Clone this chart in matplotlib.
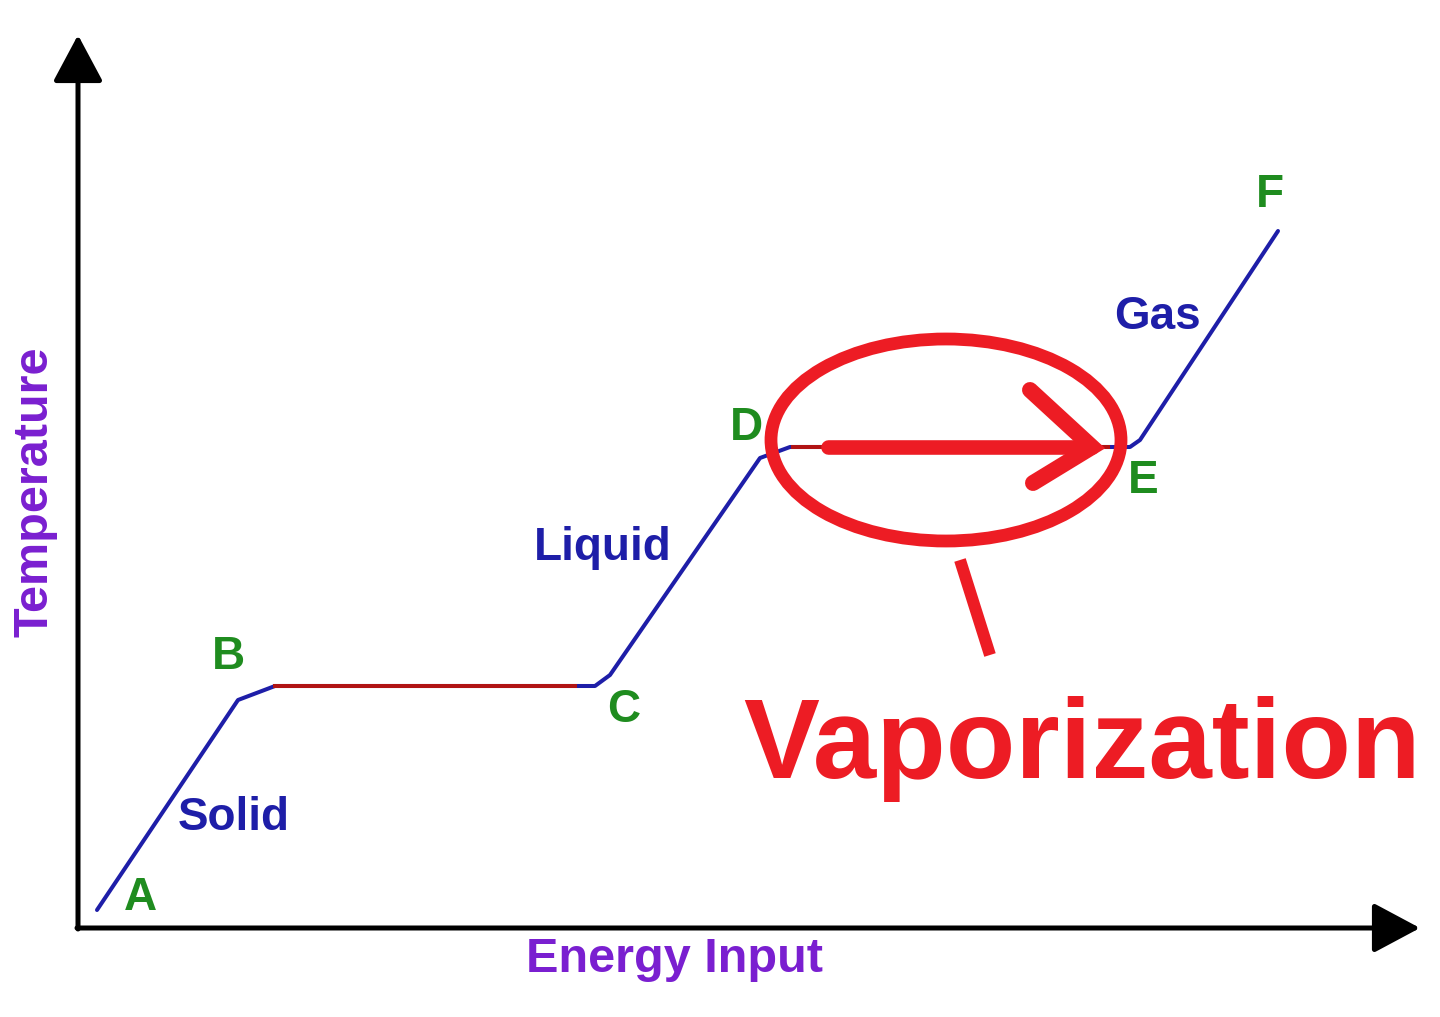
import matplotlib
matplotlib.use("Agg")
import matplotlib.pyplot as plt
from matplotlib.patches import Ellipse

# ---- data (energy input vs temperature, arbitrary units) ----
energy = [19, 160, 197, 517, 532, 682, 712, 1052, 1062, 1200]
temperature = [18, 228, 242, 242, 253, 470, 481, 481, 488, 697]

plateau1_energy = [197, 497]
plateau1_temp = [242, 242]
plateau2_energy = [715, 1030]
plateau2_temp = [481, 481]

point_labels = ["A", "B", "C", "D", "E", "F"]
point_x = [62, 150, 546, 668, 1065, 1192]
point_y = [30, 271, 218, 500, 447, 733]

phase_labels = ["Solid", "Liquid", "Gas"]
phase_x = [156, 525, 1079]
phase_y = [110, 380, 611]

# annotation: ellipse highlighting vaporization
ell_center = (868, 488)
ell_w, ell_h = 350, 202
pointer_x = [882, 912]
pointer_y = [368, 273]
arrow_shaft_x = [750, 1014]
arrow_shaft_y = [481, 481]
arrow_head_x = [952, 1014, 955]
arrow_head_y = [538, 481, 445]

BLUE = "#1e1ea8"
DARKRED = "#b01414"
GREEN = "#1f8c1f"
PURPLE = "#7a1fd0"
RED = "#ED1C24"
FONT = "Liberation Sans"

fig = plt.figure(figsize=(14.4, 10.17), dpi=100)
ax = fig.add_axes([0, 0, 1, 1])
ax.set_xlim(-78, 1362)
ax.set_ylim(-89, 928)
ax.axis("off")

# axes with arrows
ap = dict(arrowstyle="-|>,head_length=2.9,head_width=1.55", lw=3.6,
          color="black", shrinkA=0, shrinkB=0, mutation_scale=10)
ax.annotate("", xy=(0, 893), xytext=(0, -1), arrowprops=ap)
ax.annotate("", xy=(1342, 0), xytext=(-1, 0), arrowprops=ap)

# heating curve
ax.plot(energy, temperature, color=BLUE, lw=2.9, solid_joinstyle="round",
        solid_capstyle="round", zorder=3)
ax.plot(plateau1_energy, plateau1_temp, color=DARKRED, lw=2.9, zorder=4)
ax.plot(plateau2_energy, plateau2_temp, color=DARKRED, lw=2.9, zorder=4)

# labels
for t, x, y in zip(point_labels, point_x, point_y):
    ax.text(x, y, t, color=GREEN, fontsize=33, fontweight="bold",
            family=FONT, ha="center", va="center", zorder=5)
for t, x, y in zip(phase_labels, phase_x, phase_y):
    ax.text(x, y, t, color=BLUE, fontsize=33, fontweight="bold",
            family=FONT, ha="center", va="center", zorder=5)

ax.text(596, -32, "Energy Input", color=PURPLE, fontsize=35,
        fontweight="bold", family=FONT, ha="center", va="center")
ax.text(-43, 436, "Temperature", color=PURPLE, fontsize=35,
        fontweight="bold", family=FONT, ha="center", va="center",
        rotation=90)

# vaporization highlight
ax.add_patch(Ellipse(ell_center, ell_w, ell_h, fill=False, edgecolor=RED,
                     lw=9.2, zorder=6))
ax.plot(pointer_x, pointer_y, color=RED, lw=8.6, solid_capstyle="butt",
        zorder=6)
ax.plot(arrow_shaft_x, arrow_shaft_y, color=RED, lw=10.5,
        solid_capstyle="round", zorder=6)
ax.plot(arrow_head_x, arrow_head_y, color=RED, lw=11.5,
        solid_capstyle="round", solid_joinstyle="miter", zorder=6)
ax.text(1004, 150, "Vaporization", color=RED, fontsize=82,
        fontweight="bold", family=FONT, ha="center", va="baseline",
        zorder=6)

fig.savefig("out.png", dpi=100, facecolor="white")
